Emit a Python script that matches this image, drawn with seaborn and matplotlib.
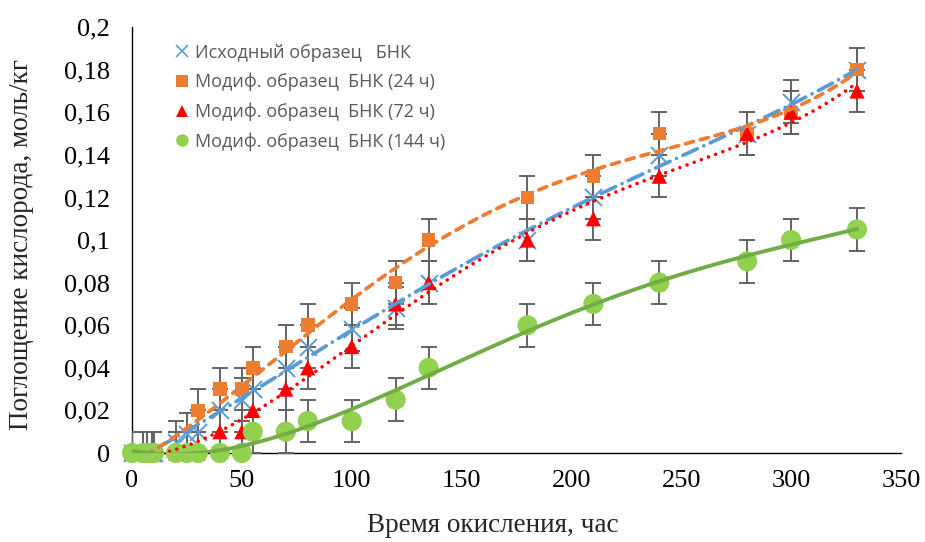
import numpy as np
import pandas as pd
import matplotlib
matplotlib.use("Agg")
import matplotlib.pyplot as plt
from matplotlib.ticker import FuncFormatter, MultipleLocator
from matplotlib.lines import Line2D
import seaborn as sns

# Oxidation time, hours
time_h = [0, 5, 7, 9, 10, 20, 25, 30, 40, 50, 55, 70, 80, 100, 120, 135, 180, 210, 240, 280, 300, 330]

# Oxygen uptake, mol/kg
uptake_initial = [0, 0, 0, 0, 0, 0.005, 0.009, 0.01, 0.02, 0.025, 0.03, 0.04, 0.05, 0.058, 0.068,
                  0.08, 0.1, 0.12, 0.14, 0.15, 0.165, 0.18]
uptake_24h = [0, 0, 0, 0, 0, 0, 0, 0.02, 0.03, 0.03, 0.04, 0.05, 0.06, 0.07, 0.08,
              0.1, 0.12, 0.13, 0.15, 0.15, 0.16, 0.18]
uptake_72h = [0, 0, 0, 0, 0, 0, 0, 0, 0.01, 0.01, 0.02, 0.03, 0.04, 0.05, 0.07,
              0.08, 0.1, 0.11, 0.13, 0.15, 0.16, 0.17]
uptake_144h = [0, 0, 0, 0, 0, 0, 0, 0, 0, 0, 0.01, 0.01, 0.015, 0.015, 0.025,
               0.04, 0.06, 0.07, 0.08, 0.09, 0.1, 0.105]

error_half = 0.01

labels = ["Исходный образец   БНК",
          "Модиф. образец  БНК (24 ч)",
          "Модиф. образец  БНК (72 ч)",
          "Модиф. образец  БНК (144 ч)"]
series_values = [uptake_initial, uptake_24h, uptake_72h, uptake_144h]

marker_styles = ["x", "s", "^", "o"]
marker_sizes = [150, 95, 120, 210]
marker_colors = ["#5B9BD5", "#ED7D31", "#FF0000", "#92D050"]
trend_colors = ["#5B9BD5", "#ED7D31", "#FF0000", "#70AD47"]
trend_dashes = [(4.2, 1.9, 0.01, 1.9), (2.2, 1.9), (0.01, 2.1), ""]
trend_widths = [2.7, 2.7, 2.6, 2.8]
trend_degree = [4, 4, 4, 4]

sns.set_theme(style="white")
plt.rcParams["font.family"] = ["Liberation Serif", "DejaVu Serif"]

fig = plt.figure(figsize=(9.25, 5.42), dpi=100)
ax = fig.add_axes([0.1427, 0.1642, 0.974 - 0.1427, 0.950 - 0.1642])

frames = []
for lab, vals in zip(labels, series_values):
    frames.append(pd.DataFrame({"t": time_h, "y": vals, "series": lab}))
df = pd.concat(frames, ignore_index=True)

t_dense = np.linspace(0, 330, 400)
for i, lab in enumerate(labels):
    sub = df[df["series"] == lab]
    # error bars
    ax.errorbar(sub["t"], sub["y"], yerr=error_half, fmt="none", ecolor="#636363",
                elinewidth=1.4, capsize=5.5, capthick=1.4, zorder=2)
    # markers
    n_before = len(ax.collections)
    sns.scatterplot(data=sub, x="t", y="y", marker=marker_styles[i], s=marker_sizes[i],
                    color=marker_colors[i], edgecolor="none" if marker_styles[i] != "x" else None,
                    linewidth=1.4 if marker_styles[i] == "x" else 0, ax=ax, zorder=3, legend=False)
    for coll in ax.collections[n_before:]:
        coll.set_clip_on(False)
    # polynomial trend line
    coef = np.polyfit(sub["t"].to_numpy(float), sub["y"].to_numpy(float), trend_degree[i])
    trend = pd.DataFrame({"t": t_dense, "y": np.polyval(coef, t_dense)})
    sns.lineplot(data=trend, x="t", y="y", color=trend_colors[i], linewidth=trend_widths[i],
                 dashes=False, ax=ax, zorder=4)
    line = ax.get_lines()[-1]
    if trend_dashes[i]:
        line.set_dashes(trend_dashes[i])
        line.set_dash_capstyle("round")

ax.set_xlim(0, 350)
ax.set_ylim(0, 0.2)
ax.xaxis.set_major_locator(MultipleLocator(50))
ax.yaxis.set_major_locator(MultipleLocator(0.02))
ax.yaxis.set_major_formatter(FuncFormatter(lambda v, p: f"{round(v, 3):g}".replace(".", ",")))
ax.xaxis.set_major_formatter(FuncFormatter(lambda v, p: f"{v:g}"))

for side in ["top", "right"]:
    ax.spines[side].set_visible(False)
for side in ["left", "bottom"]:
    ax.spines[side].set_color("#000000")
    ax.spines[side].set_linewidth(1.0)
    ax.spines[side].set_zorder(1)

ax.tick_params(axis="both", which="major", direction="out", length=6, width=1.0,
               color="#000000", labelsize=19, labelcolor="#000000", pad=6)
ax.tick_params(axis="y", pad=10)
ax.set_xlabel("Время окисления, час", fontsize=19.5)
ax.xaxis.set_label_coords(0.469, -0.142)
ax.set_ylabel("Поглощение кислорода, моль/кг", fontsize=19.5)
ax.yaxis.set_label_coords(-0.128, 0.49)
ax.grid(False)

handles = [Line2D([], [], linestyle="none", marker=marker_styles[i], color=marker_colors[i],
                  markersize=[9, 8.5, 8.5, 9][i], markeredgewidth=1.2 if i == 0 else 0)
           for i in range(4)]
leg = ax.legend(handles, labels, loc="upper left", bbox_to_anchor=(0.046, 0.978), frameon=False,
                prop={"family": ["Open Sans", "DejaVu Sans"], "size": 13},
                handlelength=0.8, handletextpad=0.35, labelspacing=0.62, borderaxespad=0)
for txt in leg.get_texts():
    txt.set_color("#595959")

fig.savefig("out.png", dpi=100)
